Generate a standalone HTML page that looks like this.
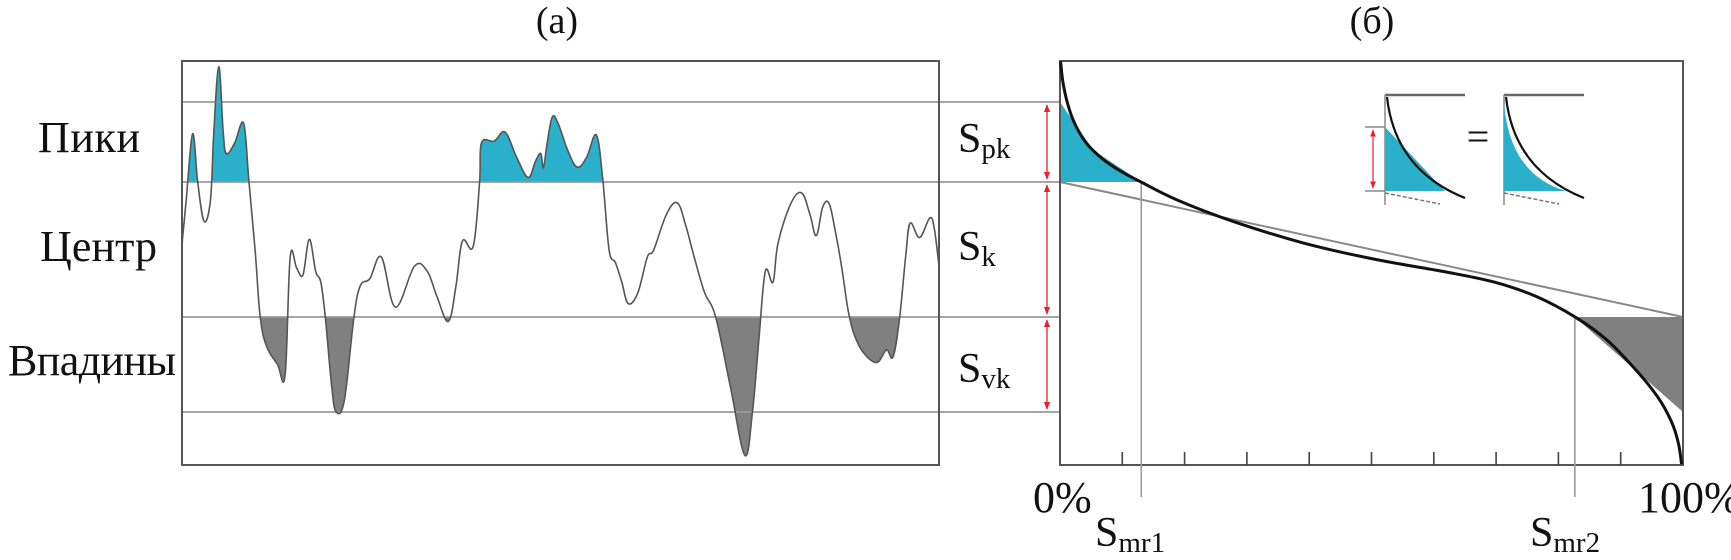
<!DOCTYPE html>
<html><head><meta charset="utf-8"><style>
body{margin:0;background:#fff;width:1731px;height:560px;overflow:hidden}
svg{display:block}
text{font-family:"Liberation Serif","DejaVu Serif",serif;fill:#111}
</style></head><body>
<svg id="chart" width="1731" height="560" viewBox="0 0 1731 560">
<defs>
<clipPath id="clipTop"><rect x="0" y="0" width="1000" height="182"/></clipPath>
<clipPath id="clipBot"><rect x="0" y="317" width="1000" height="300"/></clipPath>
<marker id="ar" viewBox="0 0 10 10" refX="9" refY="5" markerWidth="6" markerHeight="6" orient="auto-start-reverse"><path d="M0,1 L10,5 L0,9 z" fill="#e8202a"/></marker>
</defs>
<text x="557" y="33" font-size="38" text-anchor="middle">(a)</text>
<text x="1372" y="33" font-size="38" text-anchor="middle">(б)</text>
<text x="38" y="152" font-size="44" textLength="102">Пики</text>
<text x="40" y="261" font-size="44" textLength="117">Центр</text>
<text x="8" y="375" font-size="44" textLength="168">Впадины</text>
<g id="gA"></g>
<g id="gB"></g>
<text x="958" y="152" font-size="42">S<tspan font-size="29" dy="6">pk</tspan></text>
<text x="958" y="260" font-size="42">S<tspan font-size="29" dy="6">k</tspan></text>
<text x="958" y="382" font-size="42">S<tspan font-size="29" dy="6">vk</tspan></text>
<text x="1033" y="512" font-size="44">0%</text>
<text x="1638" y="512" font-size="44">100%</text>
<text x="1095" y="546" font-size="42">S<tspan font-size="29" dy="6">mr1</tspan></text>
<text x="1530" y="546" font-size="42">S<tspan font-size="29" dy="6">mr2</tspan></text>
<text x="1478" y="150" font-size="40" text-anchor="middle">=</text>
</svg>
<script>
// profile trace (reference zoom units)
const profX=[285,292,302,310,320,330,335,343,350,355,368,382,390,400,408,418,435,447,455,465,475,485,495,503,510,520,527,540,555,565,580,598,620,650,670,685,703,715,725,742,752,755,775,792,810,828,840,848,852,858,866,875,890,905,920,935,945,955,965,975,985,1000,1015,1025,1045,1062,1075,1090,1105,1122,1145,1168,1180,1190,1200,1212,1220,1240,1257,1270,1280,1290,1300,1310,1320,1330,1340,1355,1375,1390,1400,1410,1420,1427,1442,1458,1465,1472];
const profY=[690,560,375,510,620,560,380,187,370,430,400,345,500,700,887,970,1020,1050,720,750,770,670,760,790,887,1080,1153,1120,887,800,780,720,860,745,760,830,900,800,675,690,510,400,395,370,440,497,450,430,470,400,328,345,420,468,440,378,500,700,735,790,850,820,720,700,600,568,630,730,820,887,1080,1275,1150,950,760,790,680,570,540,600,660,580,570,650,750,870,940,990,1015,980,1000,900,720,625,665,610,640,740];
// bearing curve trace
const curX=[130,135,145,160,185,220,260,303,380,500,650,800,950,1060,1150,1233,1300,1360,1410,1440,1455,1462];
const curY=[172,230,290,345,400,445,480,510,560,620,680,725,760,790,830,887,950,1030,1110,1180,1240,1300];
const levels=[102,182,317,412];
const tickCount=10;

const NS='http://www.w3.org/2000/svg';
function mk(tag,attrs,parent){const e=document.createElementNS(NS,tag);for(const k in attrs)e.setAttribute(k,attrs[k]);parent.appendChild(e);return e;}
function smooth(p){let d='M'+p[0][0].toFixed(1)+','+p[0][1].toFixed(1);for(let i=0;i<p.length-1;i++){const a=p[Math.max(0,i-1)],b=p[i],c=p[i+1],e2=p[Math.min(p.length-1,i+2)];const t=0.18;const c1=[b[0]+(c[0]-a[0])*t,b[1]+(c[1]-a[1])*t],c2=[c[0]-(e2[0]-b[0])*t,c[1]-(e2[1]-b[1])*t];d+=' C'+c1.map(v=>v.toFixed(1))+' '+c2.map(v=>v.toFixed(1))+' '+c[0].toFixed(1)+','+c[1].toFixed(1);}return d;}
const sxA=v=>v/1.568, sy=v=>v/2.8, sxB=v=>1000+v/2.145;
const gA=document.getElementById('gA'), gB=document.getElementById('gB');
const pts=profX.map((x,i)=>[sxA(x),sy(profY[i])]);
const first=pts[0][0], last=pts[pts.length-1][0];
const pd=smooth(pts);
let e;
e=mk('path',{d:pd+' L'+last+','+levels[1]+' L'+first+','+levels[1]+' Z',fill:'#2bb0cc','clip-path':'url(#clipTop)'},gA);


e=mk('path',{d:pd+' L'+last+','+levels[2]+' L'+first+','+levels[2]+' Z',fill:'#808080','clip-path':'url(#clipBot)'},gA);


levels.forEach((y,i)=>{
  e=mk('line',{x1:182,x2:1060,y1:y,y2:y,stroke:'#999','stroke-width':1.8},gA);
  
  
});
e=mk('rect',{x:182,y:61,width:757,height:404,fill:'none',stroke:'#555','stroke-width':2},gA);


e=mk('path',{d:pd,fill:'none',stroke:'#555','stroke-width':1.6,'stroke-linejoin':'round'},gA);


[[levels[0],levels[1]],[levels[1],levels[2]],[levels[2],levels[3]]].forEach((p,i)=>{
  e=mk('line',{x1:1047,x2:1047,y1:p[0]+3,y2:p[1]-3,stroke:'#e8202a','stroke-width':1.3,'marker-start':'url(#ar)','marker-end':'url(#ar)'},gB);
  
  
});
const x0=1060,x1=1683;
e=mk('path',{d:`M${x0},${levels[0]} L${sxB(200)},${sy(420)} L${sxB(303)},${levels[1]} L${x0},${levels[1]} Z`,fill:'#2bb0cc'},gB);


e=mk('polygon',{points:`${sxB(1233)},${levels[2]} ${x1},${levels[2]} ${x1},${levels[3]}`,fill:'#808080'},gB);


e=mk('line',{x1:x0,y1:levels[1],x2:x1,y2:levels[2],stroke:'#888','stroke-width':2},gB);


e=mk('path',{d:'M'+x0+',61 H'+x1+' V465 H'+x0+' Z',fill:'none',stroke:'#555','stroke-width':2},gB);


for(let i=1;i<tickCount;i++){
  const x=x0+(x1-x0)*i/tickCount;
  e=mk('line',{x1:x,x2:x,y1:452,y2:465,stroke:'#444','stroke-width':1.6},gB);
  
  
}
[[sxB(303),'smr1-line',1],[sxB(1233),'smr2-line',2]].forEach(p=>{
  e=mk('line',{x1:p[0],x2:p[0],y1:levels[p[2]],y2:497,stroke:'#999','stroke-width':1.6},gB);
  
  
});
const cpts=curX.map((x,i)=>[sxB(x),sy(curY[i])]);
e=mk('path',{d:smooth(cpts),fill:'none',stroke:'#111','stroke-width':3,'stroke-linejoin':'round'},gB);


function inset(ox,withArrow,name){
  const g=mk('g',{},gB);
  
  
  mk('line',{x1:ox,x2:ox+80,y1:95,y2:95,stroke:'#666','stroke-width':2.5},g);
  mk('line',{x1:ox,x2:ox,y1:95,y2:205,stroke:'#888','stroke-width':1.5},g);
  mk('path',{d:`M${ox},${withArrow?127:103} ${withArrow?'L'+(ox+60)+',191':'Q'+(ox+6)+',175 '+(ox+62)+',191'} L${ox},191 Z`,fill:'#2bb0cc'},g);
  mk('path',{d:`M${ox+2},97 Q${ox+10},170 ${ox+80},198`,fill:'none',stroke:'#111','stroke-width':2.2},g);
  mk('line',{x1:ox,x2:ox+55,y1:193,y2:204,stroke:'#777','stroke-width':1.5,'stroke-dasharray':'4 2'},g);
  if(withArrow){
    mk('line',{x1:ox-20,x2:ox,y1:127,y2:127,stroke:'#888','stroke-width':1.5},g);
    mk('line',{x1:ox-20,x2:ox,y1:191,y2:191,stroke:'#888','stroke-width':1.5},g);
    mk('line',{x1:ox-12,x2:ox-12,y1:130,y2:188,stroke:'#e8202a','stroke-width':1.2,'marker-start':'url(#ar)','marker-end':'url(#ar)'},g);
  }
}
inset(1385,true,'inset-before');
inset(1504,false,'inset-after');
</script>
</body></html>
